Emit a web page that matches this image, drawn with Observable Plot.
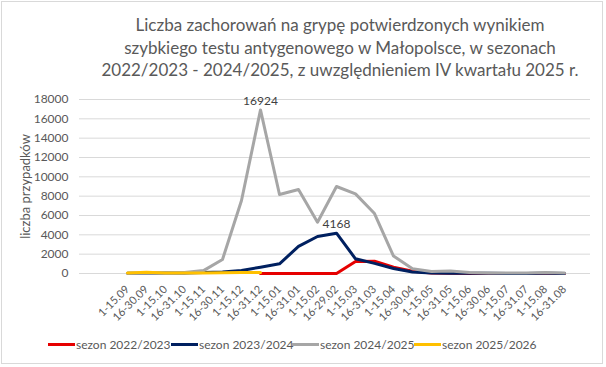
<!DOCTYPE html>
<html>
<head>
<meta charset="utf-8">
<script src="https://cdn.jsdelivr.net/npm/d3@7"></script>
<script src="https://cdn.jsdelivr.net/npm/@observablehq/plot@0.6"></script>
<style>
  html, body { margin: 0; padding: 0; background: #fff; }
  #wrap { position: relative; width: 606px; height: 367px; overflow: hidden; font-family: Lato, "Open Sans", sans-serif; }
  #border { position: absolute; left: 1px; top: 1px; width: 602px; height: 363px; border: 1px solid #d9d9d9; box-sizing: border-box; }
  #title { position: absolute; left: 72px; width: 536px; top: 14px; text-align: center; font-size: 17px; line-height: 22.5px; color: #595959; }
  #chart { position: absolute; left: 0; top: 80px; }
  .leg { position: absolute; top: 337px; display: flex; align-items: center; font-size: 12px; color: #595959; white-space: nowrap; }
  .leg .sw { width: 27px; height: 3px; margin-right: 1px; }
</style>
</head>
<body>
<div id="wrap">
  <div id="border"></div>
  <div id="title">Liczba zachorowań na grypę potwierdzonych wynikiem<br>szybkiego testu antygenowego w Małopolsce, w sezonach<br>2022/2023 - 2024/2025, z uwzględnieniem IV kwartału 2025 r.</div>
  <div id="chart"></div>
  <div id="legend"></div>
</div>
<script>
const categories = ["1-15.09","16-30.09","1-15.10","16-31.10","1-15.11","16-30.11","1-15.12","16-31.12",
  "1-15.01","16-31.01","1-15.02","16-29.02","1-15.03","16-31.03","1-15.04","16-30.04",
  "1-15.05","16-31.05","1-15.06","16-30.06","1-15.07","16-31.07","1-15.08","16-31.08"];
const seriesNames = ["sezon 2022/2023","sezon 2023/2024","sezon 2024/2025","sezon 2025/2026"];
const seriesColors = ["#e60000","#002060","#a6a6a6","#ffc000"];
const s2022 = [null,null,null,null,null,null,null,0,0,0,0,0,1240,1270,650,240,60,20,0,0,0,0,0,0];
const s2023 = [20,30,40,60,100,150,310,650,1000,2800,3830,4168,1520,1050,520,160,60,30,20,15,10,10,30,10];
const s2024 = [20,30,50,100,300,1450,7550,16924,8170,8690,5300,9000,8240,6200,1800,500,200,250,100,60,50,50,100,40];
const s2025 = [60,130,50,50,50,80,100,100,null,null,null,null,null,null,null,null,null,null,null,null,null,null,null,null];
const yTicks = [0,2000,4000,6000,8000,10000,12000,14000,16000,18000];
const labeled = [{series: "sezon 2024/2025", idx: 7}, {series: "sezon 2023/2024", idx: 11}];

const allSeries = [s2022, s2023, s2024, s2025];
const rows = [];
allSeries.forEach((arr, si) => arr.forEach((v, i) => {
  if (v != null) rows.push({series: seriesNames[si], cat: categories[i], value: v, idx: i});
}));
const labelRows = rows.filter(r => labeled.some(l => l.series === r.series && l.idx === r.idx));

const chart = Plot.plot({
  width: 606,
  height: 250,
  marginLeft: 79,
  marginRight: 16,
  marginTop: 19,
  marginBottom: 57,
  insetLeft: 29,
  insetRight: 8,
  style: {fontFamily: "Lato, 'Open Sans', sans-serif", background: "transparent"},
  x: {type: "point", domain: categories},
  y: {domain: [0, 18000]},
  color: {domain: seriesNames, range: seriesColors},
  marks: [
    Plot.ruleY(yTicks, {stroke: "#d9d9d9", strokeWidth: 1}),
    Plot.axisY({ticks: yTicks, tickSize: 0, tickPadding: 11, tickFormat: d => String(d), label: null, fontSize: 12, fill: "#595959"}),
    Plot.axisX({tickSize: 0, tickPadding: 14, tickRotate: -45, label: null, fontSize: 11, fill: "#595959"}),
    Plot.line(rows, {x: "cat", y: "value", z: "series", stroke: "series", strokeWidth: 3, strokeLinejoin: "round", strokeLinecap: "round"}),
    Plot.text(labelRows, {x: "cat", y: "value", text: d => String(d.value), dy: -9, fontSize: 12, fill: "#404040"}),
    Plot.text(["liczba przypadków"], {frameAnchor: "left", textAnchor: "middle", dx: -54, rotate: -90, fontSize: 13, fill: "#595959"})
  ]
});
document.getElementById("chart").appendChild(chart);

const legendLefts = [48, 171, 292, 414];
const legend = document.getElementById("legend");
seriesNames.forEach((name, i) => {
  const item = document.createElement("div");
  item.className = "leg";
  item.style.left = legendLefts[i] + "px";
  const sw = document.createElement("div");
  sw.className = "sw";
  sw.style.background = seriesColors[i];
  const tx = document.createElement("span");
  tx.textContent = name;
  item.appendChild(sw);
  item.appendChild(tx);
  legend.appendChild(item);
});
</script>
</body>
</html>
